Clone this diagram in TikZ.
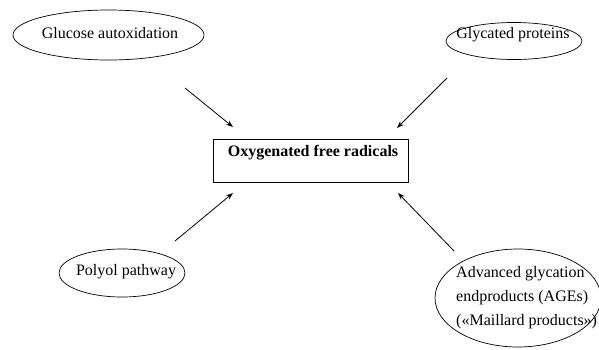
\documentclass[tikz,border=0pt]{standalone}
\usepackage{fontspec}
\setmainfont{Liberation Serif}
\usetikzlibrary{shapes.geometric,arrows.meta}
\begin{document}
\begin{tikzpicture}[x=1pt,y=-1pt,
  oval/.style={draw,ellipse,line width=0.7pt,inner sep=0pt},
  label/.style={inner sep=0pt,font=\fontsize{16}{24}\selectfont},
  boxed/.style={draw,rectangle,line width=0.7pt,inner sep=0pt},
  conn/.style={line width=0.8pt,-{Stealth[length=7pt,width=5pt]}}]
\useasboundingbox (0,0) rectangle (599,349);
% ellipses
\node[oval,minimum width=191pt,minimum height=50pt] (gae) at (108.5,35) {};
\node[label] (gat) at (110,33) {Glucose autoxidation};
\node[oval,minimum width=136pt,minimum height=37pt] (gpe) at (514,41) {};
\node[label] (gpt) at (513,35) {Glycated proteins};
\node[oval,minimum width=126pt,minimum height=48pt] (ppe) at (122,273) {};
\node[label] (ppt) at (126,272) {Polyol pathway};
\node[oval,minimum width=166pt,minimum height=98pt] (age) at (518,298) {};
\node[label,align=left,anchor=west] (agt) at (456,298) {Advanced glycation\\endproducts (AGEs)\\(«Maillard products»)};
% central box
\node[boxed,minimum width=195pt,minimum height=43pt] (box) at (310.5,160.5) {};
\node[label,font=\fontsize{16}{24}\selectfont\bfseries] (boxt) at (313,153) {Oxygenated free radicals};
% arrow endpoints
\coordinate (a1) at (185,88);  \coordinate (b1) at (233,127);
\coordinate (a2) at (447,78);  \coordinate (b2) at (397,128);
\coordinate (a3) at (175,241); \coordinate (b3) at (233,193);
\coordinate (a4) at (454,251); \coordinate (b4) at (398,193);
\draw[conn] (a1) -- (b1);
\draw[conn] (a2) -- (b2);
\draw[conn] (a3) -- (b3);
\draw[conn] (a4) -- (b4);
\end{tikzpicture}
\end{document}
